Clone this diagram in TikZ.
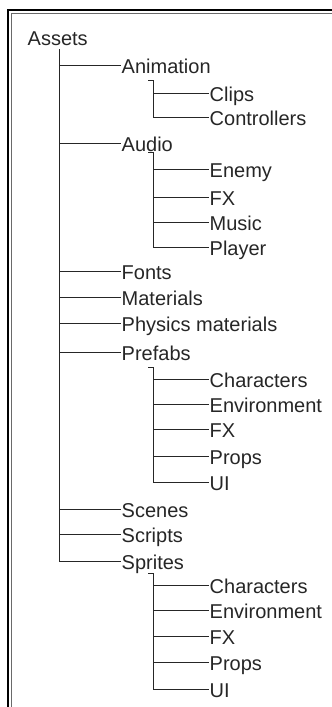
\documentclass[tikz,border=0pt]{standalone}
\usepackage{fontspec}
\setmainfont{Liberation Sans}
\usetikzlibrary{positioning}
\definecolor{treeline}{HTML}{262626}
\definecolor{framegray}{HTML}{6A6A6A}

\begin{document}
\begin{tikzpicture}[x=1pt, y=-1pt]
        \tikzstyle{every node}=[anchor=west, inner sep=0.5pt, text height=17pt, text depth=0pt,
                                font=\fontsize{20}{24}\selectfont, text=treeline]
        \tikzstyle{branch}=[draw=treeline, line width=1pt]
        \useasboundingbox (0,0) rectangle (332,707);

        % frame
        \draw[line width=2.5pt] (8,707) |- (332,10);
        \draw[line width=0.7pt, framegray] (11.6,707) |- (332,13.6);

        \node (root)    at (27,37)   {Assets};
        \node (anim)    at (121,65)  {Animation};
        \node (clips)   at (209,93)  {Clips};
        \node (ctrl)    at (209,117) {Controllers};
        \node (audio)   at (121,143) {Audio};
        \node (enemy)   at (209,169) {Enemy};
        \node (afx)     at (209,197) {FX};
        \node (music)   at (209,222) {Music};
        \node (player)  at (209,247) {Player};
        \node (fonts)   at (121,271) {Fonts};
        \node (mats)    at (121,297) {Materials};
        \node (phys)    at (121,323) {Physics materials};
        \node (prefabs) at (121,352) {Prefabs};
        \node (pchar)   at (209,379) {Characters};
        \node (penv)    at (209,404) {Environment};
        \node (pfx)     at (209,429) {FX};
        \node (pprops)  at (209,456) {Props};
        \node (pui)     at (209,482) {UI};
        \node (scenes)  at (121,509) {Scenes};
        \node (scripts) at (121,534) {Scripts};
        \node (sprites) at (121,561) {Sprites};
        \node (schar)   at (209,585) {Characters};
        \node (senv)    at (209,610) {Environment};
        \node (sfx)     at (209,636) {FX};
        \node (sprops)  at (209,662) {Props};
        \node (sui)     at (209,689) {UI};

        % main trunk
        \coordinate (trunk) at (59,49);
        \draw[branch] (trunk) |- (sprites.west);
        \foreach \n in {anim,audio,fonts,mats,phys,prefabs,scenes,scripts}
            \draw[branch] (trunk |- \n.west) -- (\n.west);

        % sub folders
        \coordinate (animhook) at (148,80);
        \coordinate (animbar)  at (153,80);
        \draw[branch] (animhook) -- (animbar) |- (ctrl.west);
        \draw[branch] (animbar |- clips.west) -- (clips.west);

        \coordinate (audiohook) at (148,152);
        \coordinate (audiobar)  at (153,152);
        \draw[branch] (audiohook) -- (audiobar) |- (player.west);
        \foreach \n in {enemy,afx,music}
            \draw[branch] (audiobar |- \n.west) -- (\n.west);

        \coordinate (prefabhook) at (148,367);
        \coordinate (prefabbar)  at (153,367);
        \draw[branch] (prefabhook) -- (prefabbar) |- (pui.west);
        \foreach \n in {pchar,penv,pfx,pprops}
            \draw[branch] (prefabbar |- \n.west) -- (\n.west);

        \coordinate (spritehook) at (148,573);
        \coordinate (spritebar)  at (153,573);
        \draw[branch] (spritehook) -- (spritebar) |- (sui.west);
        \foreach \n in {schar,senv,sfx,sprops}
            \draw[branch] (spritebar |- \n.west) -- (\n.west);
\end{tikzpicture}
\end{document}
